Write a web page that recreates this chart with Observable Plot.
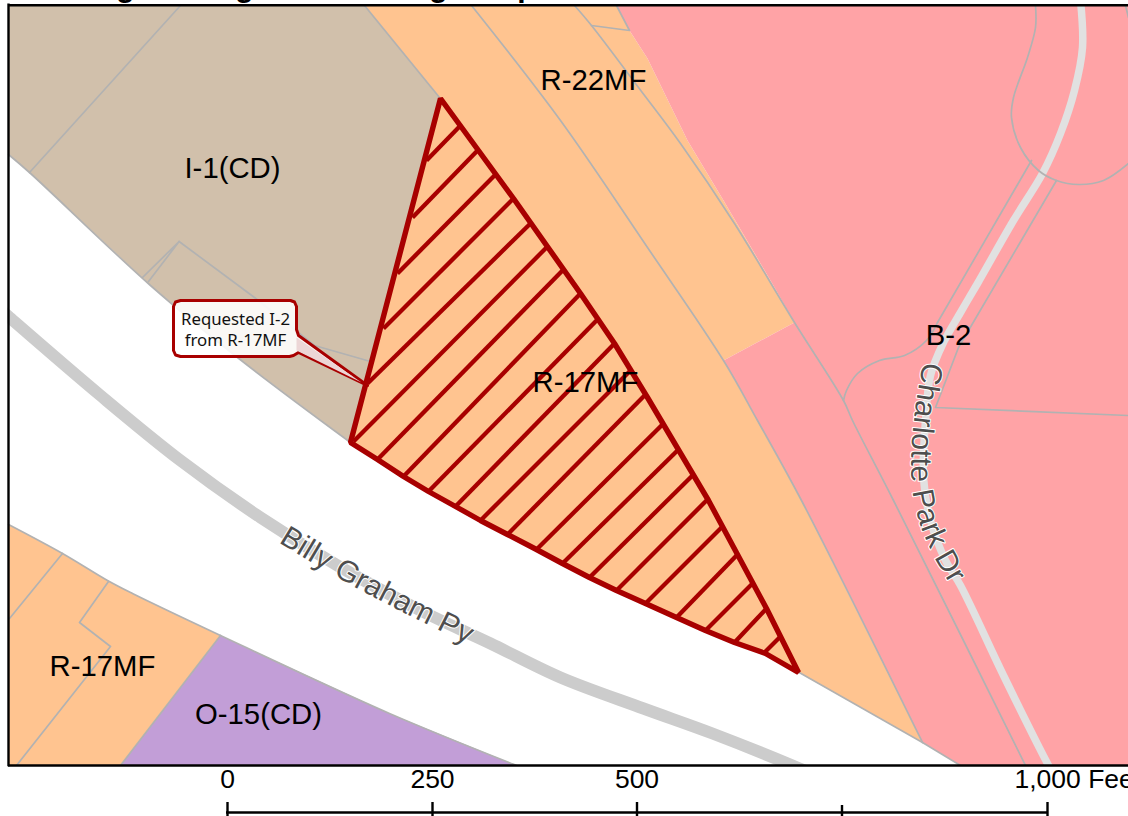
<!DOCTYPE html>
<html>
<head>
<meta charset="utf-8">
<script src="https://cdn.jsdelivr.net/npm/d3@7"></script>
<script src="https://cdn.jsdelivr.net/npm/@observablehq/plot@0.6"></script>
<style>
html,body{margin:0;padding:0;background:#fff;overflow:hidden}
svg{display:block}
</style>
</head>
<body>
<div id="chart"></div>
<script>
// Zoning polygons
const tanZone = [[8,5],[364,5],[439,97],[350,442],[237,357],[150,285],[29,172],[8,154]];
const orangeBand = [[364,5],[616,5],[629,30],[647,58],[687,140],[723,200],[770,280],[794,322],[723,360],[757,420],[801,500],[922,742],[798,672],[765,653],[734,642],[705,630],[676,617],[645,603],[616,590],[589,577],[562,563],[536,549],[507,534],[480,520],[455,506],[428,491],[403,476],[377,459],[350,442],[439,97]];
const pinkZone = [[616,5],[1128,5],[1128,765],[960,765],[922,742],[801,500],[757,420],[723,360],[794,322],[770,280],[723,200],[687,140],[647,58],[629,30]];
const purpleZone = [[220,635],[389,713],[516,765],[120,765]];
const swOrange = [[8,524],[62,553],[107,580],[132,593],[220,635],[120,765],[8,765]];

// Roads
const billyGrahamRoad = [[0,309],[8,316],[100,395],[180,460],[260,517],[337,565],[420,610],[490,643],[560,677],[643,708],[712,733],[792,765],[815,775]];
const charlotteRoad = [[1080,0],[1082,47],[1074,90],[1060,133],[1042,173],[1013,220],[977,283],[960,312],[943,342],[930,375],[925,420],[923,477],[930,520],[945,560],[960,585],[1004,677],[1047,763],[1052,772]];

// Parcel outlines: straight segments
const parcels = [
  [[364,5],[439,97]],
  [[180,5],[29,172]],
  [[142,277],[178.6,241],[148,281]],
  [[178.6,241],[254,297],[314,345],[370,361]],
  [[797,671],[922,742],[960,765]],
  [[591,25],[629,30],[616,5]],
  [[1125,5],[1128,17]],
  [[1056,180],[958,347],[935,407],[1128,415]],
  [[220,635],[120,765]],
  [[62,553],[9,618]],
  [[108,581],[79,622],[110,646],[16,765]]
];
// Parcel outlines: curved boundaries
const curvedParcels = [
  [[8,154],[29,172],[150,285],[237,357],[350,442]],
  [[471,5],[560,120],[647,247],[723,360],[757,420],[801,500],[922,742]],
  [[574,5],[591,25],[638,87],[680,143],[734,223],[794,322],[843,400],[852,420],[893,500],[1025,765]],
  [[1035,5],[1035,27],[1027,57],[1013,97],[1011,117],[1020,147],[1038,170],[1056,180],[1078,184],[1103,180],[1128,163]],
  [[937,322],[926,340],[904,355],[879,360],[857,373],[846,390],[843,400]],
  [[8,524],[62,553],[107,580],[132,593],[220,635],[389,713],[516,765]]
];
const roadEdge = [[1031,160],[937,322]];

// Requested rezoning area
const siteOutline = [[440,98],[513,198],[580,293],[614,343],[647,397],[708,500],[766,608],[798,672],[765,653],[734,642],[705,630],[676,617],[645,603],[616,590],[589,577],[562,563],[536,549],[507,534],[480,520],[455,506],[428,491],[403,476],[377,459],[350,442]];
const hatchX1 = [426,412,397,383,367,353,377,403,428,455,480,507,536,562,589,616,645,676,705,734,763];
const hatchY1 = [160,217,273,328,383,441,459,476,491,506,520,534,549,563,577,590,603,617,630,642,653];
const hatchX2 = [460,478,496,513,531,548,563,580,597,614,630,645,663,678,693,708,722,737,752,766,780];
const hatchY2 = [125,149,173,198,222,245,269,293,319,343,370,394,423,449,474,498,526,554,583,608,636];
const hatchLines = hatchX1.map((x, i) => ({x1: x, y1: hatchY1[i], x2: hatchX2[i], y2: hatchY2[i]}));

// Callout
const calloutShape = [[180,300],[290,300],[294,301.5],[296,306],[296,329],[298,335],[367,385],[298,352],[293,355],[289,356],[180,356],[175,354.5],[173,350],[173,306],[175,301.5]];
const calloutPointer = [[296,337],[361,382],[296,350]];
const calloutText = ["Requested I-2\nfrom R-17MF"];
const calloutAt = [235, 328];

// Zone labels
const zoneLabels = ["I-1(CD)","R-22MF","R-17MF","B-2","R-17MF","O-15(CD)"];
const zoneLabelX = [232,593,585,948,102,258];
const zoneLabelY = [168,80,382,335,666,714];

// Street labels and their baselines
const billyLabel = "Billy Graham Py";
const billyBaseline = [[270,537],[337,577],[395,608],[437,629],[475,648]];
const charlotteLabel = "Charlotte Park Dr";
const charlotteBaseline = [[926,345],[916,400],[911,450],[912,490],[920,525],[933,555],[958,598]];

// Scale bar
const scaleTicks = [227,432,636.5,841.5,1047];
const scaleTickTop = [802,802,802,805,802];
const scaleMidLabels = ["0","250","500"];
const scaleMidLabelX = [227,432,636.5];
const scaleEndLabel = ["1,000 Feet"];
const scaleEndLabelX = 1014;

// Clipped title descenders at the top edge
const titleGlyphs = ["g","g","g","p"];
const titleGlyphX = [125,244,438,526];

const ink = "#a80000", parcelGray = "#b2b2b2";
const xy = {x: d => d[0], y: d => d[1]};
const poly = (pts, fill) => Plot.line(pts, {...xy, fill, stroke: "none", curve: "linear-closed"});

function streetLabel(label, baseline, id) {
  return Plot.text([label], {
    x: () => baseline[0][0], y: () => baseline[0][1], text: d => d,
    fontSize: 30, fill: "#4e4e4e", stroke: "#ffffff", strokeWidth: 2, paintOrder: "stroke",
    render(index, scales, values, dims, ctx, next) {
      const g = next(index, scales, values, dims, ctx);
      const t = g.querySelector("text");
      const NS = "http://www.w3.org/2000/svg";
      const p = document.createElementNS(NS, "path");
      p.setAttribute("id", id);
      p.setAttribute("fill", "none");
      p.setAttribute("stroke", "none");
      p.setAttribute("d", d3.line().x(d => scales.x(d[0])).y(d => scales.y(d[1])).curve(d3.curveCatmullRom)(baseline));
      g.insertBefore(p, g.firstChild);
      t.textContent = "";
      t.removeAttribute("transform");
      t.removeAttribute("x"); t.removeAttribute("y"); t.removeAttribute("dy");
      t.setAttribute("text-anchor", "middle");
      const tp = document.createElementNS(NS, "textPath");
      tp.setAttribute("href", "#" + id);
      tp.setAttribute("startOffset", "50%");
      tp.textContent = label;
      t.appendChild(tp);
      return g;
    }
  });
}

const chart = Plot.plot({
  width: 1128, height: 816, margin: 0,
  x: {domain: [0, 1128], range: [0, 1128], axis: null},
  y: {domain: [0, 816], range: [0, 816], axis: null},
  style: {background: "#ffffff", fontFamily: "'Liberation Sans', Arial, sans-serif"},
  marks: [
    poly(tanZone, "#d1c0ab"),
    poly(orangeBand, "#ffc490"),
    poly(pinkZone, "#ffa3a6"),
    poly(purpleZone, "#c29ed7"),
    poly(swOrange, "#ffc490"),
    Plot.line(billyGrahamRoad, {...xy, stroke: "#cccccc", strokeWidth: 12, curve: "catmull-rom"}),
    Plot.line(charlotteRoad, {...xy, stroke: "#e1e1e1", strokeWidth: 7.5, curve: "catmull-rom"}),
    ...parcels.map(p => Plot.line(p, {...xy, stroke: parcelGray, strokeWidth: 1.7, curve: "linear"})),
    ...curvedParcels.map(p => Plot.line(p, {...xy, stroke: parcelGray, strokeWidth: 1.7, curve: "catmull-rom"})),
    Plot.line(roadEdge, {...xy, stroke: parcelGray, strokeWidth: 1.7}),
    Plot.link(hatchLines, {x1: "x1", y1: "y1", x2: "x2", y2: "y2", stroke: ink, strokeWidth: 4.3}),
    Plot.line(siteOutline, {...xy, stroke: ink, strokeWidth: 5.4, curve: "linear-closed", strokeLinejoin: "miter"}),
    // mask outside the map frame
    Plot.rect([0], {x1: 0, x2: 1128, y1: 766, y2: 816, fill: "#ffffff"}),
    Plot.rect([0], {x1: 0, x2: 7.5, y1: 0, y2: 816, fill: "#ffffff"}),
    Plot.rect([0], {x1: 0, x2: 1128, y1: 0, y2: 4, fill: "#ffffff"}),
    Plot.text(titleGlyphs, {x: (d, i) => titleGlyphX[i], y: () => -3.5, text: d => d, fontSize: 30, fontWeight: "bold", fill: "#000", textAnchor: "middle", lineAnchor: "bottom"}),
    Plot.ruleY([4.8, 765], {x1: 8, x2: 1128, stroke: "#000", strokeWidth: 2.4}),
    Plot.ruleX([8], {y1: 3.6, y2: 766.2, stroke: "#000", strokeWidth: 2.4}),
    streetLabel(billyLabel, billyBaseline, "billy-path"),
    streetLabel(charlotteLabel, charlotteBaseline, "charlotte-path"),
    Plot.text(zoneLabels, {x: (d, i) => zoneLabelX[i], y: (d, i) => zoneLabelY[i], text: d => d, fontSize: 29.3, fill: "#000", textAnchor: "middle", lineAnchor: "middle"}),
    Plot.line(calloutShape, {...xy, fill: "#ffffff", fillOpacity: 0.88, stroke: ink, strokeWidth: 3, curve: "linear-closed"}),
    poly(calloutPointer, "#ecd6d6"),
    Plot.text(calloutText, {x: () => calloutAt[0], y: () => calloutAt[1], text: d => d, fontFamily: "'Noto Sans', sans-serif", fontSize: 16.8, lineHeight: 1.25, fill: "#111", textAnchor: "middle", lineAnchor: "middle"}),
    // scale bar
    Plot.ruleY([812], {x1: 226, x2: 1048, stroke: "#000", strokeWidth: 2.4}),
    Plot.ruleX(scaleTicks, {y1: (d, i) => scaleTickTop[i], y2: () => 816, stroke: "#000", strokeWidth: 2.4}),
    Plot.text(scaleMidLabels, {x: (d, i) => scaleMidLabelX[i], y: () => 779.5, text: d => d, fontSize: 26.5, fill: "#000", textAnchor: "middle", lineAnchor: "middle"}),
    Plot.text(scaleEndLabel, {x: () => scaleEndLabelX, y: () => 779.5, text: d => d, fontSize: 26.5, fill: "#000", textAnchor: "start", lineAnchor: "middle"})
  ]
});
document.getElementById("chart").appendChild(chart);
</script>
</body>
</html>
